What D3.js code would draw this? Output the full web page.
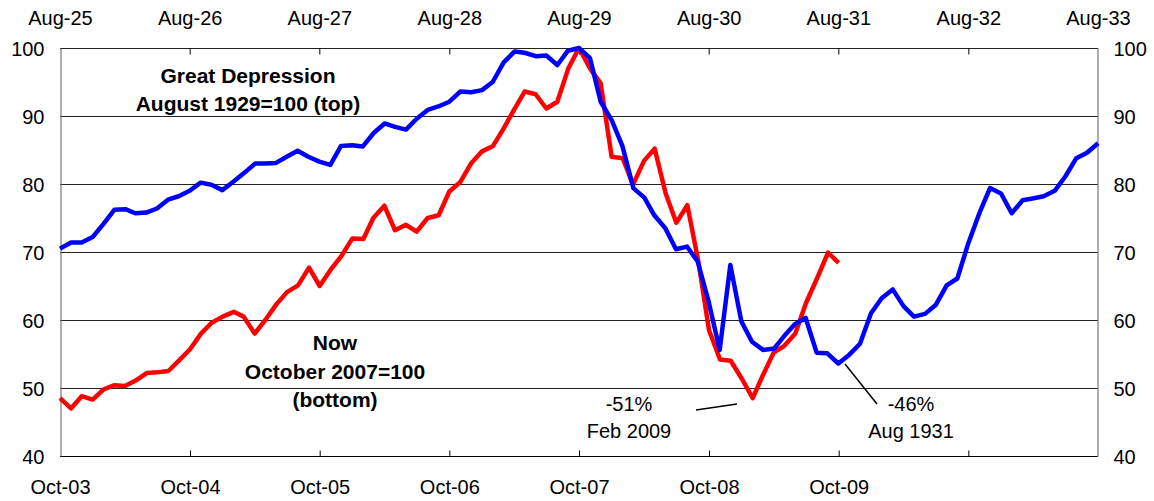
<!DOCTYPE html>
<html>
<head>
<meta charset="utf-8">
<script src="https://cdn.jsdelivr.net/npm/d3@7"></script>
<style>
  body { margin: 0; background: #fff; }
  svg { display: block; font-family: Arial, "Liberation Sans", sans-serif; }
</style>
</head>
<body>
<div id="chart"></div>
<script>
// Monthly index values, Great Depression from Aug-1925 (Aug 1929 = 100)
const thenValues = [
  70.5, 71.4, 71.4, 72.2, 74.1, 76.2, 76.3, 75.7, 75.8, 76.4, 77.7, 78.2,
  79.0, 80.2, 79.9, 79.1, 80.3, 81.6, 83.0, 83.0, 83.1, 84.0, 84.9, 84.0,
  83.3, 82.8, 85.6, 85.7, 85.5, 87.5, 88.9, 88.4, 88.0, 89.6, 90.9, 91.4,
  92.1, 93.6, 93.5, 93.8, 95.0, 97.9, 99.5, 99.3, 98.8, 98.9, 97.5, 99.6,
  100, 98.5, 92.1, 89.4, 85.6, 79.4, 78.0, 75.4, 73.5, 70.4, 70.8, 68.6,
  62.7, 55.6, 68.1, 59.8, 56.8, 55.6, 55.8, 57.6, 59.4, 60.3, 55.2, 55.1,
  53.6, 54.9, 56.5, 61.0, 63.2, 64.5, 62.0, 60.5, 60.9, 62.2, 65.1, 66.1,
  71.3, 75.7, 79.4, 78.6, 75.7, 77.6, 77.9, 78.2, 79.0, 81.1, 83.8, 84.6,
  86.0
];
// Monthly index values, now from Oct-2003 (Oct 2007 = 100)
const nowValues = [
  48.5, 47.0, 48.8, 48.3, 49.8, 50.4, 50.3, 51.1, 52.2, 52.3, 52.5, 54.1,
  55.7, 58.0, 59.6, 60.5, 61.2, 60.5, 58.0, 60.0, 62.3, 64.1, 65.1, 67.7,
  65.0, 67.4, 69.4, 72.0, 71.9, 75.0, 76.8, 73.2, 74.0, 73.0, 75.0, 75.4,
  78.9, 80.3, 83.0, 84.8, 85.6, 88.0, 90.9, 93.6, 93.2, 91.1, 92.1, 97.0,
  100, 97.0, 94.8, 84.0, 83.8, 79.9, 83.4, 85.2, 78.6, 74.3, 76.9, 68.6,
  58.5, 54.2, 54.0, 51.4, 48.5, 51.8, 55.2, 56.2, 58.0, 62.5, 66.1, 69.9,
  68.4
];
const yTicks = [40, 50, 60, 70, 80, 90, 100];
const topTickLabels = ["Aug-25", "Aug-26", "Aug-27", "Aug-28", "Aug-29", "Aug-30", "Aug-31", "Aug-32", "Aug-33"];
const bottomTickLabels = ["Oct-03", "Oct-04", "Oct-05", "Oct-06", "Oct-07", "Oct-08", "Oct-09", "", ""];

const width = 1154;
const height = 501;
const margin = {left: 60, right: 56, top: 48, bottom: 45};

const thenStart = new Date(1925, 7, 1);
const nowStart = new Date(2003, 9, 1);

const xThen = d3.scaleTime()
    .domain([thenStart, new Date(1933, 7, 1)])
    .range([margin.left, width - margin.right]);
const xNow = d3.scaleTime()
    .domain([nowStart, new Date(2011, 9, 1)])
    .range([margin.left, width - margin.right]);
const y = d3.scaleLinear()
    .domain([40, 100])
    .range([height - margin.bottom, margin.top]);

const svg = d3.select("#chart").append("svg")
    .attr("width", width)
    .attr("height", height);

// Horizontal gridlines
svg.append("g")
    .selectAll("line")
    .data(yTicks)
    .join("line")
    .attr("x1", margin.left)
    .attr("x2", width - margin.right)
    .attr("y1", d => Math.round(y(d)) + 0.5)
    .attr("y2", d => Math.round(y(d)) + 0.5)
    .attr("stroke", d => d === 40 ? "#000" : "#222")
    .attr("stroke-width", 1);

// Axes
const fs = 20;
const topAxis = d3.axisTop(xThen)
    .ticks(d3.timeYear.every(1))
    .tickSizeInner(-6).tickSizeOuter(0)
    .tickFormat((d, i) => topTickLabels[i]);
const bottomAxis = d3.axisBottom(xNow)
    .ticks(d3.timeYear.every(1))
    .tickSizeInner(-6).tickSizeOuter(0)
    .tickFormat((d, i) => bottomTickLabels[i]);

// d3.timeYear ticks fall on Jan 1; build ticks on the anniversary months instead
const topTicks = d3.range(topTickLabels.length).map(i => d3.timeMonth.offset(thenStart, 12 * i));
const bottomTicks = d3.range(bottomTickLabels.length).map(i => d3.timeMonth.offset(nowStart, 12 * i));
topAxis.tickValues(topTicks);
bottomAxis.tickValues(bottomTicks);

const gTop = svg.append("g")
    .attr("transform", `translate(0,${Math.round(y(100)) + 0.5})`)
    .call(topAxis);
const gBottom = svg.append("g")
    .attr("transform", `translate(0,${Math.round(y(40)) + 0.5})`)
    .call(bottomAxis);

[gTop, gBottom].forEach(g => {
    g.select(".domain").remove();
    g.selectAll(".tick line").attr("stroke", "#000");
    g.selectAll(".tick text")
        .attr("font-size", fs)
        .attr("font-family", "Arial, 'Liberation Sans', sans-serif")
        .attr("fill", "#000");
});
gTop.selectAll(".tick text").attr("dy", 0).attr("y", -24);
gBottom.selectAll(".tick text").attr("dy", 0).attr("y", 37);
// end ticks are covered by the frame
gTop.selectAll(".tick line").filter((d, i) => i === 0 || i === topTicks.length - 1).remove();
gBottom.selectAll(".tick line").filter((d, i) => i === 0 || i === bottomTicks.length - 1).remove();

const leftAxis = d3.axisLeft(y).tickValues(yTicks).tickSize(0).tickPadding(16);
const rightAxis = d3.axisRight(y).tickValues(yTicks).tickSize(0).tickPadding(16);
const gLeft = svg.append("g")
    .attr("transform", `translate(${margin.left + 0.5},0)`)
    .call(leftAxis);
const gRight = svg.append("g")
    .attr("transform", `translate(${width - margin.right - 0.5},0)`)
    .call(rightAxis);
[gLeft, gRight].forEach(g => {
    g.select(".domain").attr("stroke", "#777").attr("stroke-width", 1.2);
    g.selectAll(".tick text")
        .attr("font-size", fs)
        .attr("font-family", "Arial, 'Liberation Sans', sans-serif")
        .attr("fill", "#000")
        .attr("dy", "0.36em");
});

// Lines
const lineThen = d3.line()
    .x((d, i) => xThen(d3.timeMonth.offset(thenStart, i)))
    .y(d => y(d));
const lineNow = d3.line()
    .x((d, i) => xNow(d3.timeMonth.offset(nowStart, i)))
    .y(d => y(d));

svg.append("path")
    .datum(nowValues)
    .attr("d", lineNow)
    .attr("fill", "none")
    .attr("stroke", "#ff0000")
    .attr("stroke-width", 4.5)
    .attr("stroke-linejoin", "round");

svg.append("path")
    .datum(thenValues)
    .attr("d", lineThen)
    .attr("fill", "none")
    .attr("stroke", "#0000ff")
    .attr("stroke-width", 4.5)
    .attr("stroke-linejoin", "round");

// Labels
function addText(lines, cx, firstY, lineH, bold) {
    const t = svg.append("text")
        .attr("text-anchor", "middle")
        .attr("font-size", bold ? 21 : 20)
        .attr("font-weight", bold ? "bold" : "normal")
        .attr("fill", "#000");
    lines.forEach((s, i) => {
        t.append("tspan").attr("x", cx).attr("y", firstY + i * lineH).text(s);
    });
}
addText(["Great Depression", "August 1929=100 (top)"], 248, 83, 28, true);
addText(["Now", "October 2007=100", "(bottom)"], 335, 350, 28.5, true);
addText(["-51%", "Feb 2009"], 629, 411, 27, false);
addText(["-46%", "Aug 1931"], 911, 411, 27, false);

// Leader lines
svg.append("line")
    .attr("x1", 696).attr("y1", 410).attr("x2", 737).attr("y2", 404)
    .attr("stroke", "#000").attr("stroke-width", 1.5);
svg.append("line")
    .attr("x1", 845).attr("y1", 364).attr("x2", 877).attr("y2", 404)
    .attr("stroke", "#000").attr("stroke-width", 1.5);
</script>
</body>
</html>
